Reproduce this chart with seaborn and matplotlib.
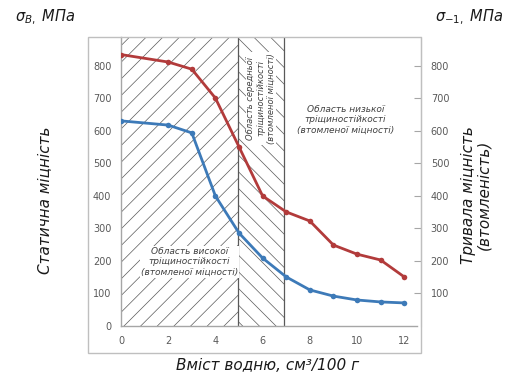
import matplotlib
matplotlib.use("Agg")
import matplotlib.pyplot as plt
import seaborn as sns
import pandas as pd
from matplotlib.patches import Rectangle

# ---- data ----
water = [0, 2, 3, 4, 5, 6, 7, 8, 9, 10, 11, 12]
static_strength = [835, 812, 790, 701, 551, 400, 351, 323, 249, 221, 203, 151]
fatigue_strength = [631, 618, 594, 400, 286, 209, 151, 111, 92, 80, 74, 71]
x_ticks = [0, 2, 4, 6, 8, 10, 12]
y_ticks_left = [0, 100, 200, 300, 400, 500, 600, 700, 800]
y_ticks_right = [100, 200, 300, 400, 500, 600, 700, 800]
zone_bounds = [0, 4.95, 6.9]

sns.set_style("white")
plt.rcParams['font.family'] = ['DejaVu Sans']
plt.rcParams['hatch.linewidth'] = 0.5
plt.rcParams['hatch.color'] = '#595959'

fig = plt.figure(figsize=(5.08, 3.74), dpi=100)
W, H = 508, 374

def axrect(x0, y0, x1, y1):
    return [x0 / W, 1 - y1 / H, (x1 - x0) / W, (y1 - y0) / H]

ax = fig.add_axes(axrect(121, 37, 421, 326))
ymax = 889
xmax = 12.71
ax.set_xlim(0, xmax)
ax.set_ylim(0, ymax)

# outer frame
fig.patches.append(Rectangle((88 / W, 1 - 353 / H), 333 / W, 316 / H,
                             transform=fig.transFigure, fill=False,
                             edgecolor='#bfbfbf', linewidth=1.0, zorder=0))

# hatched zones
ax.axvspan(zone_bounds[0], zone_bounds[1], ymin=0, ymax=1, facecolor='none',
           edgecolor='#595959', hatch='//', linewidth=0, zorder=0)
ax.axvspan(zone_bounds[1], zone_bounds[2], ymin=0, ymax=1, facecolor='none',
           edgecolor='#595959', hatch='\\\\', linewidth=0, zorder=0)
for xb in zone_bounds[1:]:
    ax.axvline(xb, color='#595959', linewidth=0.9, zorder=1)

df = pd.DataFrame({'x': water, 'static': static_strength, 'fatigue': fatigue_strength})
sns.lineplot(data=df, x='x', y='static', ax=ax, color='#b23b3b', linewidth=2.0,
             marker='o', markersize=4, markeredgewidth=0, zorder=3)
sns.lineplot(data=df, x='x', y='fatigue', ax=ax, color='#3d7ab8', linewidth=2.0,
             marker='o', markersize=4, markeredgewidth=0, zorder=3)

ax.set_xlabel('')
ax.set_ylabel('')
ax.set_xticks(x_ticks)
ax.set_yticks(y_ticks_left)
ax.tick_params(axis='both', length=0, labelsize=7, labelcolor='#595959')
ax.tick_params(axis='x', pad=7)
ax.tick_params(axis='y', pad=7)
for s in ['top', 'right']:
    ax.spines[s].set_visible(False)
for s in ['left', 'bottom']:
    ax.spines[s].set_color('#a6a6a6')
    ax.spines[s].set_linewidth(1.0)
ax.spines['bottom'].set_bounds(0, 12.55)
ax.patch.set_alpha(0)

ax2 = ax.twinx()
ax2.set_ylim(0, ymax)
ax2.set_yticks(y_ticks_right)
ax2.tick_params(axis='y', direction='in', length=5, color='#a6a6a6',
                labelsize=7, labelcolor='#595959', pad=7)
for s in ['top', 'left', 'bottom']:
    ax2.spines[s].set_visible(False)
ax2.spines['right'].set_color('#bfbfbf')

# zone texts
tk = dict(fontsize=6.5, style='italic', color='#404040', ha='center', va='center',
          linespacing=1.25)
ax.text(2.9, 197, 'Область високої\nтріщиностійкості\n(втомленої міцності)',
        bbox=dict(boxstyle='square,pad=0.1', facecolor='white', edgecolor='none'),
        zorder=2, **tk)
ax.text(5.93, 700, 'Область середньої\nтріщиностійкості\n(втомленої міцності)',
        rotation=90, fontsize=6, style='italic', color='#404040', ha='center',
        va='center', linespacing=1.15,
        bbox=dict(boxstyle='square,pad=0.1', facecolor='white', edgecolor='none'),
        zorder=2)
ax.text(9.5, 634, 'Область низької\nтріщиностійкості\n(втомленої міцності)', **tk)

# axis titles
fig.text(45 / W, 1 - 200 / H, 'Статична міцність', rotation=90, ha='center',
         va='center', fontsize=11, style='italic', color='#1a1a1a')
fig.text(476 / W, 1 - 195 / H, 'Тривала міцність\n(втомленість)', rotation=90,
         ha='center', va='center', fontsize=11, style='italic', color='#1a1a1a',
         linespacing=1.0)
fig.text(268 / W, 1 - 366 / H, 'Вміст водню, см³/100 г', ha='center', va='center',
         fontsize=11, style='italic', color='#1a1a1a')
fig.text(15 / W, 1 - 17 / H, r'$\sigma_{B,}$ МПа', ha='left', va='center',
         fontsize=10.5, style='italic', color='#1a1a1a')
fig.text(503 / W, 1 - 17 / H, r'$\sigma_{-1,}$ МПа', ha='right', va='center',
         fontsize=10.5, style='italic', color='#1a1a1a')

fig.savefig('out.png', dpi=100)
